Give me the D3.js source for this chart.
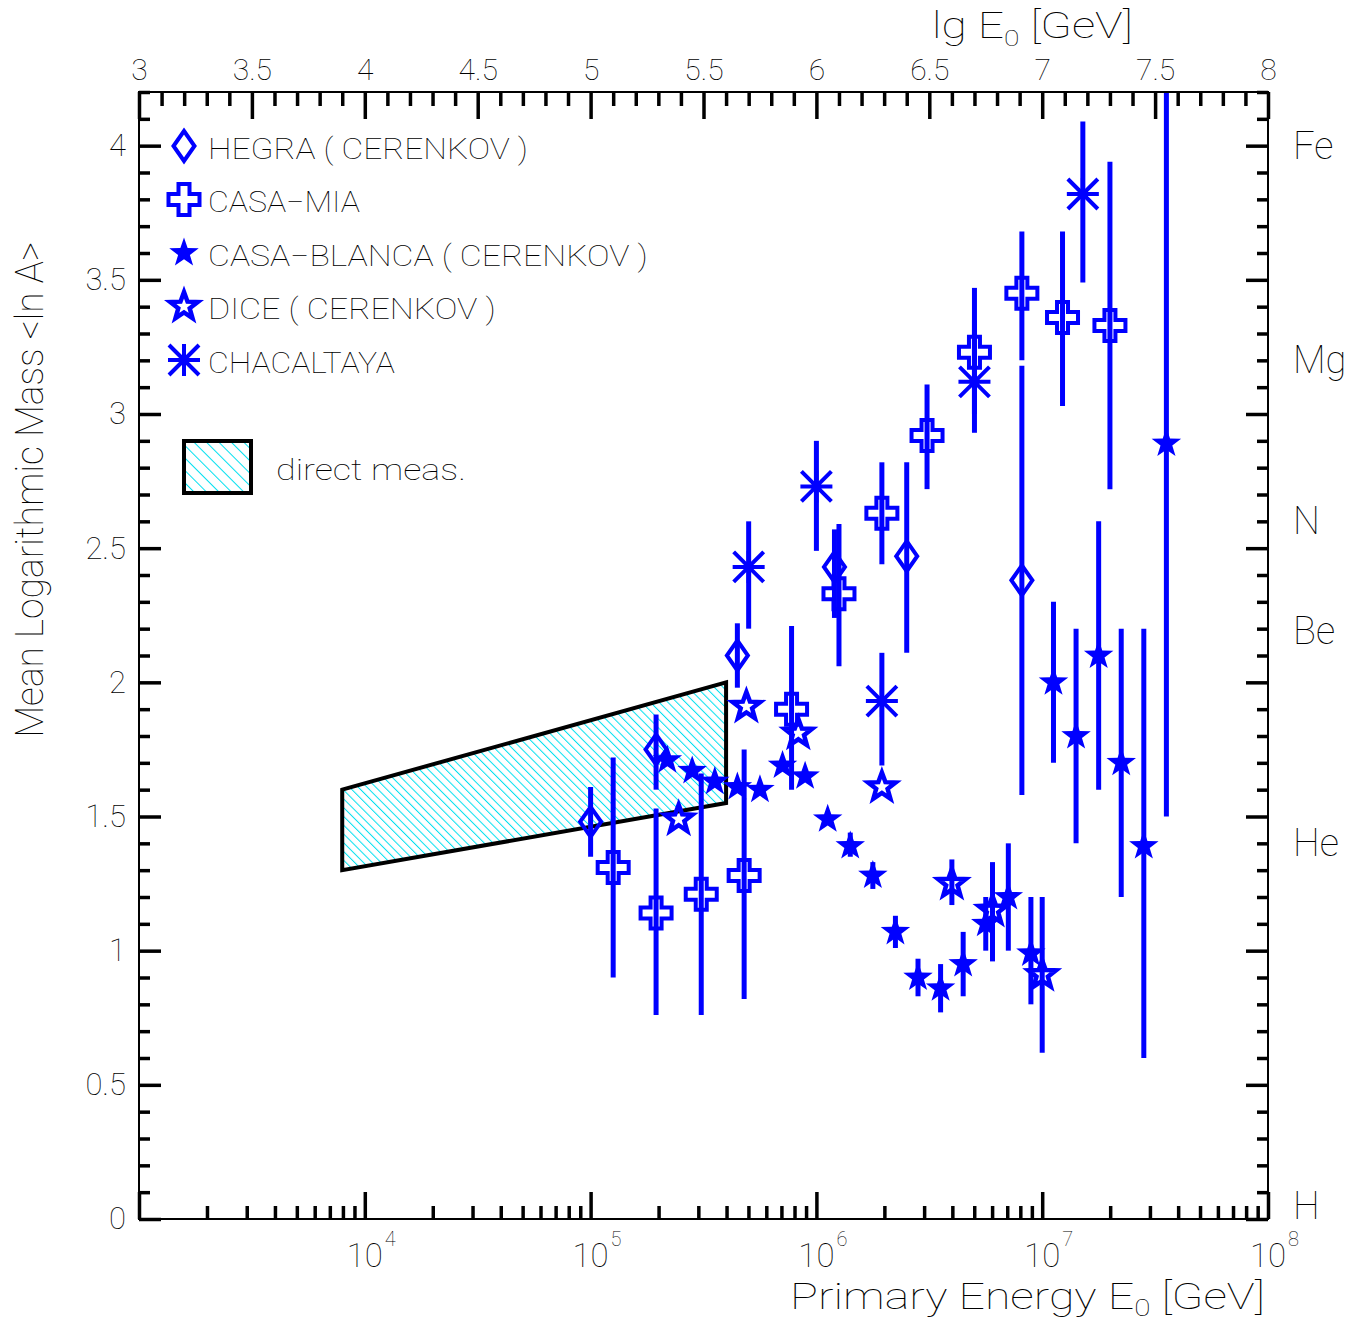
<!DOCTYPE html>
<html>
<head>
<meta charset="utf-8">
<script src="https://cdn.jsdelivr.net/npm/d3@7"></script>
<style>
  body { margin: 0; background: #fff; }
  text { font-family: Roboto, "DejaVu Sans", sans-serif; font-weight: 100; fill: #000; }
</style>
</head>
<body>
<svg id="chart" width="1359" height="1320"></svg>
<script>
// ---- measurements: lg(E0/GeV), mean <ln A>, lower and upper error limits ----
const hegraLgE = [5.00, 5.29, 5.65, 6.08, 6.40, 6.91];
const hegraLnA = [1.48, 1.75, 2.10, 2.43, 2.47, 2.38];
const hegraLo  = [1.35, 1.60, 1.98, 2.24, 2.11, 1.58];
const hegraHi  = [1.61, 1.88, 2.22, 2.57, 2.82, 3.18];

const casaMiaLgE = [5.10, 5.29, 5.49, 5.68, 5.89, 6.10, 6.29, 6.49, 6.70, 6.91, 7.09, 7.30];
const casaMiaLnA = [1.31, 1.14, 1.21, 1.28, 1.90, 2.33, 2.63, 2.92, 3.23, 3.45, 3.36, 3.33];
const casaMiaLo  = [0.90, 0.76, 0.76, 0.82, 1.60, 2.06, 2.44, 2.72, 3.00, 3.20, 3.03, 2.72];
const casaMiaHi  = [1.72, 1.53, 1.66, 1.75, 2.21, 2.59, 2.82, 3.11, 3.47, 3.68, 3.68, 3.94];

const blancaLgE = [5.34, 5.45, 5.55, 5.65, 5.75, 5.85, 5.95, 6.05, 6.15, 6.25, 6.35, 6.45,
                   6.55, 6.65, 6.75, 6.85, 6.95, 7.05, 7.15, 7.25, 7.35, 7.45, 7.55];
const blancaLnA = [1.71, 1.67, 1.63, 1.61, 1.60, 1.69, 1.65, 1.49, 1.39, 1.28, 1.07, 0.90,
                   0.86, 0.95, 1.10, 1.20, 0.99, 2.00, 1.80, 2.10, 1.70, 1.39, 2.89];
const blancaLo  = [1.71, 1.67, 1.63, 1.61, 1.60, 1.69, 1.65, 1.49, 1.35, 1.23, 1.01, 0.83,
                   0.77, 0.83, 1.00, 1.00, 0.80, 1.70, 1.40, 1.60, 1.20, 0.60, 1.50];
const blancaHi  = [1.71, 1.67, 1.63, 1.61, 1.60, 1.69, 1.65, 1.49, 1.44, 1.33, 1.13, 0.97,
                   0.95, 1.07, 1.20, 1.40, 1.20, 2.30, 2.20, 2.60, 2.20, 2.20, 4.40];

const diceLgE = [5.39, 5.69, 5.92, 6.29, 6.60, 6.78, 7.00];
const diceLnA = [1.49, 1.91, 1.81, 1.61, 1.25, 1.15, 0.91];
const diceLo  = [1.49, 1.91, 1.81, 1.61, 1.17, 0.96, 0.62];
const diceHi  = [1.49, 1.91, 1.81, 1.61, 1.34, 1.33, 1.20];

const chacalLgE = [5.70, 6.00, 6.29, 6.70, 7.18];
const chacalLnA = [2.43, 2.73, 1.93, 3.12, 3.82];
const chacalLo  = [2.20, 2.49, 1.69, 2.93, 3.49];
const chacalHi  = [2.60, 2.90, 2.11, 3.35, 4.09];

// band of direct measurements (corners)
const directLgE = [3.9, 5.6, 5.6, 3.9];
const directLnA = [1.60, 2.00, 1.55, 1.30];

// element marks on the right-hand side
const elementNames = ["H", "He", "Be", "N", "Mg", "Fe"];
const elementPos   = [0.05, 1.40, 2.19, 2.60, 3.20, 4.00];

const seriesNames = ["HEGRA ( CERENKOV )", "CASA\u2212MIA", "CASA\u2212BLANCA ( CERENKOV )",
                     "DICE ( CERENKOV )", "CHACALTAYA"];
const directLabel = "direct meas.";

const yMajorTicks = [0, 0.5, 1, 1.5, 2, 2.5, 3, 3.5, 4];
const lgMajorTicks = [3, 3.5, 4, 4.5, 5, 5.5, 6, 6.5, 7, 7.5, 8];
const decadeTicks = [1e3, 1e4, 1e5, 1e6, 1e7, 1e8];
const decadeLabels = ["4", "5", "6", "7", "8"];

// ---- layout ----
const L = 139, R = 1268, T = 92, B = 1219;
const BLUE = "#0000ff";

const svg = d3.select("#chart");
const x = d3.scaleLog().domain([1e3, 1e8]).range([L, R]);
const xLg = d3.scaleLinear().domain([3, 8]).range([L, R]);
const y = d3.scaleLinear().domain([0, 4.2]).range([B, T]);
const ex = lg => x(Math.pow(10, lg));

const defs = svg.append("defs");
defs.append("clipPath").attr("id", "plotClip")
  .append("rect").attr("x", L).attr("y", T).attr("width", R - L).attr("height", B - T);

function hatch(id, step) {
  const p = defs.append("pattern").attr("id", id)
    .attr("patternUnits", "userSpaceOnUse")
    .attr("width", step).attr("height", step)
    .attr("patternTransform", "rotate(-45)");
  p.append("rect").attr("width", step).attr("height", step).attr("fill", "#fff");
  p.append("line").attr("x1", 0.5).attr("y1", 0).attr("x2", 0.5).attr("y2", step)
    .attr("stroke", "#00e0f0").attr("stroke-width", 1);
}
hatch("hatchPlot", 6.2);
hatch("hatchKey", 8.8);

// ---- marker shapes ----
function starPath(Ro, Ri) {
  const pts = [];
  for (let i = 0; i < 10; i++) {
    const a = -Math.PI / 2 + i * Math.PI / 5;
    const r = i % 2 ? Ri : Ro;
    pts.push([r * Math.cos(a), r * Math.sin(a)]);
  }
  return "M" + pts.map(p => p[0].toFixed(2) + "," + p[1].toFixed(2)).join("L") + "Z";
}
function crossPath(s, a) {
  const p = [[-a,-s],[a,-s],[a,-a],[s,-a],[s,a],[a,a],[a,s],[-a,s],[-a,a],[-s,a],[-s,-a],[-a,-a]];
  return "M" + p.map(q => q.join(",")).join("L") + "Z";
}
const markers = {
  diamond:  { d: "M0,-15L10.5,0L0,15L-10.5,0Z", fill: "none", sw: 4 },
  cross:    { d: crossPath(15.5, 5.5), fill: "none", sw: 4 },
  star:     { d: starPath(15.5, 6.2), fill: BLUE, sw: 0 },
  openStar: { d: starPath(14.5, 6.0), fill: "none", sw: 4.5 },
  asterisk: { d: "M-16,0H16M0,-16V16M-15,-15L15,15M-15,15L15,-15", fill: "none", sw: 4 }
};
function drawMarker(g, type, cx, cy) {
  const m = markers[type];
  g.append("path").attr("d", m.d)
    .attr("transform", `translate(${cx},${cy})`)
    .attr("fill", m.fill)
    .attr("stroke", m.sw ? BLUE : "none")
    .attr("stroke-width", m.sw)
    .attr("stroke-linejoin", "miter")
    .attr("stroke-miterlimit", 4);
}

// ---- direct-measurement band ----
const band = directLgE.map((lg, i) => [ex(lg), y(directLnA[i])]);
svg.append("path")
  .attr("d", d3.line()(band) + "Z")
  .attr("fill", "url(#hatchPlot)")
  .attr("stroke", "#000").attr("stroke-width", 4).attr("stroke-linejoin", "miter");

// ---- data series ----
const series = [
  { lg: hegraLgE,   v: hegraLnA,   lo: hegraLo,   hi: hegraHi,   m: "diamond" },
  { lg: casaMiaLgE, v: casaMiaLnA, lo: casaMiaLo, hi: casaMiaHi, m: "cross" },
  { lg: blancaLgE,  v: blancaLnA,  lo: blancaLo,  hi: blancaHi,  m: "star" },
  { lg: diceLgE,    v: diceLnA,    lo: diceLo,    hi: diceHi,    m: "openStar" },
  { lg: chacalLgE,  v: chacalLnA,  lo: chacalLo,  hi: chacalHi,  m: "asterisk" }
];

const dataG = svg.append("g").attr("clip-path", "url(#plotClip)");
series.forEach(s => {
  const g = dataG.append("g");
  s.lg.forEach((lg, i) => {
    if (s.hi[i] - s.lo[i] > 0.001) {
      g.append("line")
        .attr("x1", ex(lg)).attr("x2", ex(lg))
        .attr("y1", y(s.lo[i])).attr("y2", y(s.hi[i]))
        .attr("stroke", BLUE).attr("stroke-width", 5);
    }
  });
  s.lg.forEach((lg, i) => drawMarker(g, s.m, ex(lg), y(s.v[i])));
});

// ---- frame and axes ----
svg.append("rect").attr("x", L).attr("y", T).attr("width", R - L).attr("height", B - T)
  .attr("fill", "none").attr("stroke", "#000").attr("stroke-width", 2);

function styleAxis(g, fontSize) {
  g.select(".domain").remove();
  g.selectAll(".tick line").attr("stroke", "#000").attr("stroke-width", 3.5);
  g.selectAll("text").attr("font-size", fontSize)
    .attr("font-family", null).attr("fill", "#000");
  g.attr("font-family", null).attr("font-size", null);
}

const yMinorTicks = d3.range(0, 43).filter(i => i % 5 !== 0).map(i => i / 10);
const lgMinorTicks = d3.range(30, 81).filter(i => i % 5 !== 0).map(i => i / 10);
const decadeMinor = [];
decadeTicks.slice(0, -1).forEach(d => { for (let k = 2; k <= 9; k++) decadeMinor.push(k * d); });

// left
svg.append("g").attr("transform", `translate(${L},0)`)
  .call(d3.axisLeft(y).tickValues(yMajorTicks).tickSizeInner(-22).tickSizeOuter(0)
    .tickPadding(13).tickFormat(d3.format("")))
  .call(g => styleAxis(g, 31));
svg.append("g").attr("transform", `translate(${L},0)`)
  .call(d3.axisLeft(y).tickValues(yMinorTicks).tickSizeInner(-11).tickSizeOuter(0).tickFormat(""))
  .call(g => styleAxis(g, 0));
// right
svg.append("g").attr("transform", `translate(${R},0)`)
  .call(d3.axisRight(y).tickValues(yMajorTicks).tickSizeInner(-22).tickSizeOuter(0).tickFormat(""))
  .call(g => styleAxis(g, 0));
svg.append("g").attr("transform", `translate(${R},0)`)
  .call(d3.axisRight(y).tickValues(yMinorTicks).tickSizeInner(-11).tickSizeOuter(0).tickFormat(""))
  .call(g => styleAxis(g, 0));
// top (lg E0)
svg.append("g").attr("transform", `translate(0,${T})`)
  .call(d3.axisTop(xLg).tickValues(lgMajorTicks).tickSizeInner(-27).tickSizeOuter(0)
    .tickPadding(12).tickFormat(d3.format("")))
  .call(g => styleAxis(g, 30));
svg.append("g").attr("transform", `translate(0,${T})`)
  .call(d3.axisTop(xLg).tickValues(lgMinorTicks).tickSizeInner(-14).tickSizeOuter(0).tickFormat(""))
  .call(g => styleAxis(g, 0));
// bottom (E0)
svg.append("g").attr("transform", `translate(0,${B})`)
  .call(d3.axisBottom(x).tickValues(decadeTicks).tickSizeInner(-27).tickSizeOuter(0).tickFormat(""))
  .call(g => styleAxis(g, 0));
svg.append("g").attr("transform", `translate(0,${B})`)
  .call(d3.axisBottom(x).tickValues(decadeMinor).tickSizeInner(-13).tickSizeOuter(0).tickFormat(""))
  .call(g => styleAxis(g, 0));

// powers of ten under the bottom axis
const powG = svg.append("g");
decadeTicks.slice(1).forEach((d, i) => {
  powG.append("text").attr("x", x(d)).attr("y", B + 48).attr("text-anchor", "middle")
    .attr("font-size", 33).text("10");
  powG.append("text").attr("x", x(d) + 20).attr("y", B + 27).attr("font-size", 20)
    .text(decadeLabels[i]);
});

// element names on the right
elementNames.forEach((n, i) => {
  svg.append("text").attr("x", R + 25).attr("y", y(elementPos[i]))
    .attr("dominant-baseline", "central").attr("font-size", 38).text(n);
});

// stretch or squeeze a text element horizontally to a given width
function fitWidth(sel, w) {
  const bb = sel.node().getBBox();
  const s = w / bb.width;
  sel.attr("transform", `translate(${bb.x},0) scale(${s},1) translate(${-bb.x},0)`);
}

// axis titles
const yTitleG = svg.append("g").attr("transform", "translate(43,485) rotate(-90)");
const yTitle = yTitleG.append("text").attr("text-anchor", "middle").attr("font-size", 38)
  .text("Mean Logarithmic Mass <ln A>");
fitWidth(yTitle, 496);

const xTitle = svg.append("text").attr("x", 790).attr("y", 1309).attr("font-size", 36);
xTitle.append("tspan").text("Primary Energy E");
xTitle.append("tspan").attr("font-size", 23).attr("dy", 7).text("0");
xTitle.append("tspan").attr("dy", -7).text(" [GeV]");
fitWidth(xTitle, 475);

const topTitle = svg.append("text").attr("x", 932).attr("y", 38).attr("font-size", 36);
topTitle.append("tspan").text("lg E");
topTitle.append("tspan").attr("font-size", 22).attr("dy", 8).text("0");
topTitle.append("tspan").attr("dy", -8).text(" [GeV]");
fitWidth(topTitle, 201);

// ---- legend ----
const keyWidths = [320, 152, 440, 288, 187];
const keyG = svg.append("g");
series.forEach((s, i) => {
  const ry = 146 + i * 53.5;
  drawMarker(keyG, s.m, 184, ry);
  const t = keyG.append("text").attr("x", 208).attr("y", ry + 13).attr("font-size", 30)
    .text(seriesNames[i]);
  fitWidth(t, keyWidths[i]);
});
keyG.append("rect").attr("x", 184).attr("y", 441).attr("width", 67).attr("height", 52)
  .attr("fill", "url(#hatchKey)").attr("stroke", "#000").attr("stroke-width", 4);
const dt = keyG.append("text").attr("x", 276).attr("y", 480).attr("font-size", 30).text(directLabel);
fitWidth(dt, 190);
</script>
</body>
</html>
